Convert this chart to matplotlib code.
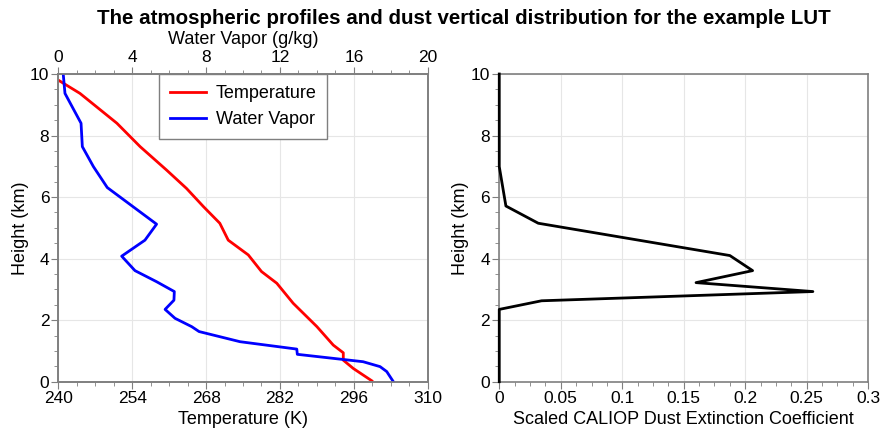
import numpy as np
import matplotlib.pyplot as plt
from matplotlib.ticker import AutoMinorLocator

plt.rcParams['font.family'] = ['Liberation Sans', 'DejaVu Sans']

# temperature profile (K) vs height (km)
temp_h = [9.8, 9.37, 8.40, 7.64, 6.88, 6.28, 5.69, 5.15, 4.60, 4.12, 3.58, 3.20,
          2.55, 1.79, 1.19, 0.94, 0.70, 0.43, 0.03]
temp_k = [240.0, 244.1, 251.1, 255.5, 260.5, 264.3, 267.5, 270.6, 272.2, 276.0,
          278.5, 281.4, 284.5, 289.0, 292.1, 294.0, 294.0, 295.9, 299.4]

# water vapor (g/kg) vs height (km)
wv_h = [9.97, 9.37, 8.40, 7.64, 6.99, 6.31, 5.12, 4.60, 4.08, 3.61, 3.25, 2.93,
        2.65, 2.35, 2.06, 1.79, 1.63, 1.30, 1.06, 0.89, 0.65, 0.49, 0.33, 0.0]
wv_gkg = [0.27, 0.36, 1.23, 1.30, 1.90, 2.65, 5.32, 4.69, 3.43, 4.15, 5.32, 6.28,
          6.26, 5.78, 6.32, 7.22, 7.62, 9.84, 12.91, 12.94, 16.5, 17.42, 17.78, 18.14]

# scaled CALIOP dust extinction vs height (km)
dust_h = [10.0, 6.99, 5.71, 5.15, 4.10, 3.61, 3.22, 2.93, 2.63, 2.35, 0.0]
dust_ext = [0.0, 0.0, 0.0054, 0.0317, 0.1875, 0.206, 0.160, 0.255, 0.0344, 0.0, 0.0]

frame_col = '#7f7f7f'
grid_col = '#e6e6e6'
tick_fs = 12.5
label_fs = 13


def style_axes(ax, grid=True):
    for s in ax.spines.values():
        s.set_color(frame_col)
        s.set_linewidth(1.2)
    ax.tick_params(which='both', direction='out', color=frame_col,
                   labelsize=tick_fs, pad=1.5)
    ax.tick_params(which='major', length=5)
    ax.tick_params(which='minor', length=3)
    ax.xaxis.set_minor_locator(AutoMinorLocator(4))
    if grid:
        ax.yaxis.set_minor_locator(AutoMinorLocator(4))
        ax.grid(True, which='major', color=grid_col, linewidth=0.8)
        ax.set_axisbelow(True)


fig = plt.figure(figsize=(8.81, 4.30), dpi=100)
ax1 = fig.add_axes([0.0662, 0.1123, 0.4193, 0.7156])
ax2 = fig.add_axes([0.5667, 0.1123, 0.4188, 0.7156])

# left panel: temperature + water vapor (twin top axis)
style_axes(ax1)
l1, = ax1.plot(temp_k, temp_h, color='red', linewidth=2)
ax1.set_xlim(240, 310)
ax1.set_ylim(0, 10)
ax1.set_xticks([240, 254, 268, 282, 296, 310])
ax1.set_yticks([0, 2, 4, 6, 8, 10])
ax1.set_xlabel('Temperature (K)', fontsize=label_fs, labelpad=4)
ax1.set_ylabel('Height (km)', fontsize=label_fs, labelpad=1)

ax1t = ax1.twiny()
style_axes(ax1t, grid=False)
l2, = ax1t.plot(wv_gkg, wv_h, color='blue', linewidth=2)
ax1t.set_xlim(0, 20)
ax1t.set_xticks([0, 4, 8, 12, 16, 20])
ax1t.set_xlabel('Water Vapor (g/kg)', fontsize=label_fs, labelpad=4)

leg = ax1t.legend([l1, l2], ['Temperature', 'Water Vapor'], loc='upper center',
                  bbox_to_anchor=(0.5, 1.0), borderaxespad=0, fontsize=13,
                  fancybox=False, framealpha=1, edgecolor=frame_col,
                  borderpad=0.6, handlelength=2.0, handletextpad=0.55,
                  labelspacing=0.5)
leg.get_frame().set_linewidth(1.0)

# right panel: dust extinction profile
style_axes(ax2)
ax2.plot(dust_ext, dust_h, color='black', linewidth=2, clip_on=False, zorder=3)
ax2.set_xlim(0, 0.3)
ax2.set_ylim(0, 10)
ax2.set_xticks([0, 0.05, 0.1, 0.15, 0.2, 0.25, 0.3])
ax2.set_xticklabels(['0', '0.05', '0.1', '0.15', '0.2', '0.25', '0.3'])
ax2.set_yticks([0, 2, 4, 6, 8, 10])
ax2.set_xlabel('Scaled CALIOP Dust Extinction Coefficient', fontsize=label_fs, labelpad=4)
ax2.set_ylabel('Height (km)', fontsize=label_fs, labelpad=1)

fig.suptitle('The atmospheric profiles and dust vertical distribution for the example LUT',
             x=0.526, y=0.978, fontsize=14.8, fontweight='bold')

fig.savefig('out.png', dpi=100)
